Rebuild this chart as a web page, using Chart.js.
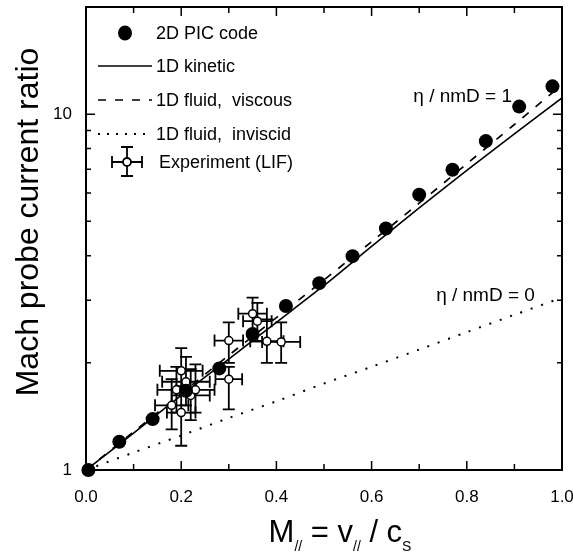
<!DOCTYPE html>
<html>
<head>
<meta charset="utf-8">
<script src="https://cdn.jsdelivr.net/npm/chart.js@4.4.1/dist/chart.umd.min.js"></script>
<style>
  html, body { margin: 0; padding: 0; background: #fff; }
  #wrap { width: 573px; height: 558px; position: relative; }
</style>
</head>
<body>
<div id="wrap"><canvas id="c"></canvas></div>
<script>
// ---- Data ----
const picX = [0.005, 0.07, 0.14, 0.21, 0.28, 0.35, 0.42, 0.49, 0.56, 0.63, 0.70, 0.77, 0.84, 0.91, 0.98];
const picY = [1.00, 1.20, 1.39, 1.67, 1.93, 2.41, 2.89, 3.35, 3.99, 4.77, 5.94, 6.98, 8.40, 10.5, 11.97];

const curveX      = [0.0, 0.1, 0.2, 0.3, 0.4, 0.5, 0.6, 0.7, 0.8, 0.9, 1.0];
const kineticY    = [1.00, 1.27, 1.62, 2.05, 2.60, 3.30, 4.25, 5.45, 6.95, 8.80, 11.1];
const viscousY    = [1.00, 1.28, 1.64, 2.10, 2.68, 3.42, 4.38, 5.62, 7.25, 9.35, 12.1];
const inviscidY   = [1.00, 1.12, 1.25, 1.40, 1.56, 1.75, 1.95, 2.18, 2.44, 2.73, 3.05];

const expX     = [0.18, 0.20, 0.21, 0.22, 0.20, 0.23, 0.19, 0.30, 0.30, 0.35, 0.36, 0.38, 0.41];
const expY     = [1.52, 1.90, 1.77, 1.62, 1.45, 1.68, 1.68, 2.31, 1.80, 2.75, 2.62, 2.30, 2.29];
const expXErr  = [0.035, 0.045, 0.050, 0.040, 0.030, 0.040, 0.040, 0.030, 0.028, 0.030, 0.030, 0.035, 0.040];
const expYLow  = [1.30, 1.65, 1.52, 1.38, 1.17, 1.45, 1.45, 2.00, 1.48, 2.45, 2.30, 2.00, 2.00];
const expYHigh = [1.80, 2.20, 2.08, 1.92, 1.72, 1.98, 1.95, 2.60, 1.95, 3.05, 2.95, 2.65, 2.60];

const xTickValues = [0, 0.2, 0.4, 0.6, 0.8, 1.0];
const yTickLabels = [1, 10];
const legendLabels = ['2D PIC code', '1D kinetic', '1D fluid,  viscous', '1D fluid,  inviscid', 'Experiment (LIF)'];
const annotations = [
  { text: 'η / nmD = 1', x: 0.895, y: 11.2 },
  { text: 'η / nmD = 0', x: 0.943, y: 3.08 }
];

const FONT = '"Liberation Sans", Arial, Helvetica, sans-serif';
const pts = (xs, ys) => xs.map((x, i) => ({ x: x, y: ys[i] }));
const zeroPad = s => { s.paddingLeft = 0; s.paddingRight = 0; s.paddingTop = 0; s.paddingBottom = 0; };

// ---- Plugins ----
const errorBars = {
  id: 'errorBars',
  beforeDatasetsDraw(chart) {
    const ctx = chart.ctx, xs = chart.scales.x, ys = chart.scales.y;
    ctx.save();
    ctx.strokeStyle = '#000';
    ctx.lineWidth = 1.8;
    const cap = 6;
    for (let i = 0; i < expX.length; i++) {
      const px = xs.getPixelForValue(expX[i]);
      const py = ys.getPixelForValue(expY[i]);
      const xl = xs.getPixelForValue(expX[i] - expXErr[i]);
      const xr = xs.getPixelForValue(expX[i] + expXErr[i]);
      const yl = ys.getPixelForValue(expYLow[i]);
      const yh = ys.getPixelForValue(expYHigh[i]);
      ctx.beginPath();
      ctx.moveTo(xl, py); ctx.lineTo(xr, py);
      ctx.moveTo(xl, py - cap); ctx.lineTo(xl, py + cap);
      ctx.moveTo(xr, py - cap); ctx.lineTo(xr, py + cap);
      ctx.moveTo(px, yl); ctx.lineTo(px, yh);
      ctx.moveTo(px - cap, yl); ctx.lineTo(px + cap, yl);
      ctx.moveTo(px - cap, yh); ctx.lineTo(px + cap, yh);
      ctx.stroke();
    }
    ctx.restore();
  }
};

const frameAndText = {
  id: 'frameAndText',
  afterDraw(chart) {
    const ctx = chart.ctx, a = chart.chartArea, xs = chart.scales.x, ys = chart.scales.y;
    ctx.save();
    ctx.strokeStyle = '#000';
    // inward ticks
    ctx.lineWidth = 1.5;
    ctx.beginPath();
    for (let k = 0; k <= 10; k++) {
      const v = k / 10;
      const px = xs.getPixelForValue(v);
      const len = (k % 2 === 0) ? 9 : 6;
      ctx.moveTo(px, a.bottom); ctx.lineTo(px, a.bottom - len);
      ctx.moveTo(px, a.top); ctx.lineTo(px, a.top + len);
    }
    const yMinor = [1, 2, 3, 4, 5, 6, 7, 8, 9, 10, 20];
    yMinor.forEach(v => {
      const py = ys.getPixelForValue(v);
      const len = (v === 1 || v === 10) ? 9 : 5;
      ctx.moveTo(a.left, py); ctx.lineTo(a.left + len, py);
      ctx.moveTo(a.right, py); ctx.lineTo(a.right - len, py);
    });
    ctx.stroke();
    // frame
    ctx.lineWidth = 2;
    ctx.strokeRect(a.left, a.top, a.right - a.left, a.bottom - a.top);

    // annotations
    ctx.fillStyle = '#000';
    ctx.font = '19px ' + FONT;
    ctx.textAlign = 'right';
    ctx.textBaseline = 'middle';
    annotations.forEach(t => {
      ctx.fillText(t.text, xs.getPixelForValue(t.x), ys.getPixelForValue(t.y));
    });

    // legend
    ctx.textAlign = 'left';
    ctx.font = '18px ' + FONT;
    const lx0 = 98, lx1 = 152, tx = 156;
    const rows = [33, 66, 100, 134, 162];
    // PIC
    ctx.beginPath(); ctx.ellipse(125, rows[0], 7, 7.5, 0, 0, Math.PI * 2); ctx.fill();
    ctx.fillText(legendLabels[0], tx, rows[0] + 1);
    // kinetic
    ctx.lineWidth = 1.5;
    ctx.setLineDash([]);
    ctx.beginPath(); ctx.moveTo(lx0, rows[1]); ctx.lineTo(lx1, rows[1]); ctx.stroke();
    ctx.fillText(legendLabels[1], tx, rows[1] + 1);
    // viscous
    ctx.setLineDash([8, 9]);
    ctx.beginPath(); ctx.moveTo(lx0, rows[2]); ctx.lineTo(lx1, rows[2]); ctx.stroke();
    ctx.fillText(legendLabels[2], tx, rows[2] + 1);
    // inviscid
    ctx.setLineDash([2, 7]);
    ctx.lineWidth = 2;
    ctx.beginPath(); ctx.moveTo(lx0, rows[3]); ctx.lineTo(lx1, rows[3]); ctx.stroke();
    ctx.fillText(legendLabels[3], tx, rows[3] + 1);
    ctx.setLineDash([]);
    // experiment symbol
    ctx.lineWidth = 1.8;
    const ex = 127, ey = rows[4];
    ctx.beginPath();
    ctx.moveTo(112, ey); ctx.lineTo(142, ey);
    ctx.moveTo(112, ey - 6); ctx.lineTo(112, ey + 6);
    ctx.moveTo(142, ey - 6); ctx.lineTo(142, ey + 6);
    ctx.moveTo(ex, ey - 15); ctx.lineTo(ex, ey + 14);
    ctx.moveTo(ex - 6, ey - 15); ctx.lineTo(ex + 6, ey - 15);
    ctx.moveTo(ex - 6, ey + 14); ctx.lineTo(ex + 6, ey + 14);
    ctx.stroke();
    ctx.beginPath(); ctx.arc(ex, ey, 4, 0, Math.PI * 2);
    ctx.fillStyle = '#fff'; ctx.fill(); ctx.stroke();
    ctx.fillStyle = '#000';
    ctx.fillText(legendLabels[4], tx + 3, ey + 1);

    // y axis title
    ctx.save();
    ctx.translate(29, 222);
    ctx.rotate(-Math.PI / 2);
    ctx.textAlign = 'center';
    ctx.textBaseline = 'middle';
    ctx.font = '32px ' + FONT;
    ctx.fillText('Mach probe current ratio', 0, 0);
    ctx.restore();

    // x axis title with subscripts
    const big = '31px ' + FONT, small = '14px ' + FONT;
    const parts = [
      { t: 'M', f: big, dy: 0 },
      { t: '//', f: small, dy: 9 },
      { t: ' = v', f: big, dy: 0 },
      { t: '//', f: small, dy: 9 },
      { t: ' / c', f: big, dy: 0 },
      { t: 'S', f: small, dy: 9 }
    ];
    let total = 0;
    parts.forEach(p => { ctx.font = p.f; p.w = ctx.measureText(p.t).width; total += p.w; });
    let x = 340 - total / 2;
    const base = 542;
    ctx.textAlign = 'left';
    ctx.textBaseline = 'alphabetic';
    parts.forEach(p => { ctx.font = p.f; ctx.fillText(p.t, x, base + p.dy); x += p.w; });
    ctx.restore();
  }
};

// ---- Chart ----
new Chart(document.getElementById('c'), {
  type: 'scatter',
  data: {
    datasets: [
      { label: legendLabels[0], data: pts(picX, picY), pointRadius: 7, pointHoverRadius: 7,
        backgroundColor: '#000', borderColor: '#000', borderWidth: 0, showLine: false, clip: false },
      { label: legendLabels[4], data: pts(expX, expY), pointRadius: 4, pointHoverRadius: 4,
        backgroundColor: '#fff', borderColor: '#000', borderWidth: 1.5, showLine: false },
      { label: legendLabels[1], data: pts(curveX, kineticY), showLine: true, pointRadius: 0,
        borderColor: '#000', borderWidth: 1.6, tension: 0.3 },
      { label: legendLabels[2], data: pts(curveX, viscousY), showLine: true, pointRadius: 0,
        borderColor: '#000', borderWidth: 1.7, borderDash: [8, 9], tension: 0.3 },
      { label: legendLabels[3], data: pts(curveX, inviscidY), showLine: true, pointRadius: 0,
        borderColor: '#000', borderWidth: 2, borderDash: [2, 9], tension: 0.3 }
    ]
  },
  options: {
    responsive: true,
    maintainAspectRatio: false,
    devicePixelRatio: 1,
    animation: false,
    layout: { padding: { top: 3, right: 11, left: 0, bottom: 0 } },
    plugins: { legend: { display: false }, tooltip: { enabled: false } },
    scales: {
      x: {
        type: 'linear', min: 0, max: 1,
        afterBuildTicks: s => { s.ticks = xTickValues.map(v => ({ value: v })); },
        afterFit: s => { s.height = 88; zeroPad(s); },
        grid: { display: false, drawTicks: false },
        border: { display: false },
        ticks: { color: '#000', font: { family: FONT, size: 17 }, padding: 17,
                 maxRotation: 0, callback: v => Number(v).toFixed(1) }
      },
      y: {
        type: 'logarithmic', min: 1, max: 20,
        afterBuildTicks: s => { s.ticks = yTickLabels.map(v => ({ value: v })); },
        afterFit: s => { s.width = 86; zeroPad(s); },
        grid: { display: false, drawTicks: false },
        border: { display: false },
        ticks: { color: '#000', font: { family: FONT, size: 17 }, padding: 14,
                 callback: v => String(v) }
      }
    }
  },
  plugins: [errorBars, frameAndText]
});
</script>
</body>
</html>
